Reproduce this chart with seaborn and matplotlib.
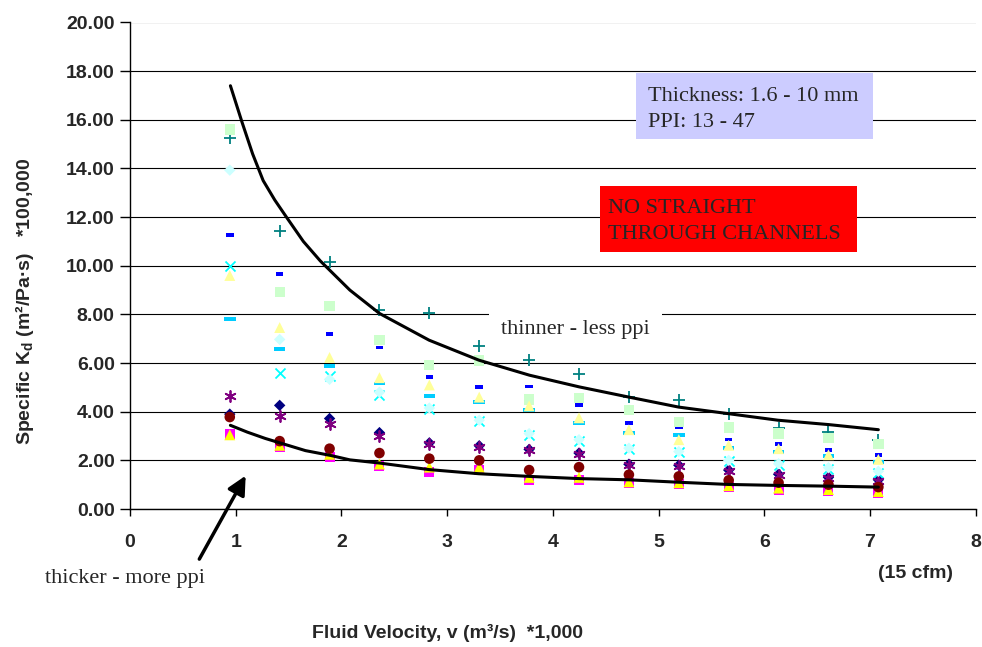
import matplotlib
matplotlib.use("Agg")
import matplotlib.pyplot as plt
from matplotlib.patches import Rectangle
from matplotlib.ticker import FormatStrFormatter
import pandas as pd
import seaborn as sns

''' DATA '''
# fluid velocity (m3/s *1000), 2 ... 15 cfm
velocity = [0.944, 1.416, 1.888, 2.36, 2.832, 3.304, 3.776, 4.248, 4.72, 5.192, 5.664, 6.136, 6.608, 7.08]

# specific Kd (m2/Pa.s *100,000), one list per sample
kd_s1 = [3.9, 4.26, 3.72, 3.14, 2.72, 2.6, 2.45, 2.3, 1.84, 1.8, 1.6, 1.43, 1.3, 1.2]
kd_s2 = [3.1, 2.55, 2.15, 1.75, 1.52, 1.62, 1.2, 1.18, 1.05, 1.03, 0.9, 0.8, 0.73, 0.65]
kd_s3 = [3.05, 2.62, 2.25, 1.85, 1.72, 1.72, 1.3, 1.3, 1.12, 1.08, 0.96, 0.86, 0.8, 0.72]
kd_s4 = [10.0, 5.61, 5.45, 4.68, 4.12, 3.6, 3.05, 2.8, 2.48, 2.33, 1.97, 1.82, 1.66, 1.5]
kd_s5 = [4.63, 3.81, 3.48, 2.99, 2.66, 2.55, 2.42, 2.28, 1.8, 1.77, 1.57, 1.4, 1.27, 1.15]
kd_s6 = [3.78, 2.79, 2.48, 2.3, 2.07, 2.0, 1.6, 1.72, 1.41, 1.34, 1.18, 1.08, 1.0, 0.9]
kd_s7 = [15.25, 11.42, 10.16, 8.2, 8.04, 6.7, 6.12, 5.53, 4.6, 4.5, 3.89, 3.35, 3.16, 2.82]
kd_s8 = [11.26, 9.67, 7.21, 6.64, 5.43, 5.02, 5.04, 4.29, 3.54, 3.37, 2.86, 2.66, 2.41, 2.23]
kd_s9 = [7.8, 6.58, 5.88, 5.16, 4.63, 4.4, 4.06, 3.54, 3.12, 3.03, 2.52, 2.34, 2.18, 1.93]
kd_s10 = [13.93, 6.97, 5.33, 4.8, 4.15, 3.65, 3.1, 2.85, 2.5, 2.36, 2.0, 1.86, 1.7, 1.55]
kd_s11 = [15.6, 8.93, 8.34, 6.94, 5.91, 6.1, 4.5, 4.56, 4.08, 3.58, 3.35, 3.1, 2.92, 2.66]
kd_s12 = [9.6, 7.46, 6.23, 5.4, 5.1, 4.6, 4.24, 3.75, 3.26, 2.85, 2.62, 2.48, 2.23, 2.04]

# envelope curves
upper_x = [0.95, 1.06, 1.16, 1.26, 1.37, 1.48, 1.64, 1.8, 2.08, 2.36, 2.83, 3.3, 3.78, 4.25, 4.72, 5.19, 5.66, 6.13, 6.61, 7.08]
upper_y = [17.4, 15.9, 14.6, 13.5, 12.7, 12.0, 11.0, 10.2, 9.0, 8.04, 6.94, 6.12, 5.5, 5.02, 4.6, 4.19, 3.92, 3.65, 3.47, 3.26]
lower_x = [0.95, 1.11, 1.28, 1.44, 1.66, 1.9, 2.08, 2.36, 2.83, 3.3, 3.78, 4.25, 4.72, 5.19, 5.66, 6.13, 6.61, 7.08]
lower_y = [3.44, 3.16, 2.9, 2.69, 2.4, 2.2, 2.02, 1.89, 1.62, 1.45, 1.34, 1.25, 1.2, 1.1, 1.01, 0.97, 0.94, 0.9]

series = [kd_s1, kd_s2, kd_s3, kd_s4, kd_s5, kd_s6, kd_s7, kd_s8, kd_s9, kd_s10, kd_s11, kd_s12]
names = ["s%d" % (i + 1) for i in range(len(series))]

rows = []
for name, vals in zip(names, series):
    for v, k in zip(velocity, vals):
        rows.append((name, v, k))
df = pd.DataFrame(rows, columns=["sample", "v", "kd"])

''' STYLES (excel-like) '''
short_bar = [(-1, -0.5), (1, -0.5), (1, 0.5), (-1, 0.5), (-1, -0.5)]
long_bar = [(-1.5, -0.5), (1.5, -0.5), (1.5, 0.5), (-1.5, 0.5), (-1.5, -0.5)]
styles = {
    "s1": dict(marker="D", color="#000080", s=34, filled=True),
    "s2": dict(marker="s", color="#FF00FF", s=52, filled=True),
    "s3": dict(marker="^", color="#FFFF00", s=62, filled=True),
    "s4": dict(marker="x", color="#00FFFF", s=52, filled=False),
    "s5": dict(marker=(6, 2, 0), color="#800080", s=62, filled=False),
    "s6": dict(marker="o", color="#800000", s=58, filled=True),
    "s7": dict(marker="+", color="#008080", s=68, filled=False),
    "s8": dict(marker=short_bar, color="#0000FF", s=30, filled=True),
    "s9": dict(marker=long_bar, color="#00CCFF", s=70, filled=True),
    "s10": dict(marker="D", color="#CCFFFF", s=34, filled=True),
    "s11": dict(marker="s", color="#CCFFCC", s=55, filled=True),
    "s12": dict(marker="^", color="#FFFF99", s=62, filled=True),
}

sns.set_style("white")
plt.rcParams["font.family"] = ["Liberation Sans", "DejaVu Sans"]
plt.rcParams["mathtext.fontset"] = "custom"
plt.rcParams["mathtext.rm"] = "Liberation Sans:bold"
plt.rcParams["mathtext.it"] = "Liberation Sans:bold"
plt.rcParams["mathtext.bf"] = "Liberation Sans:bold"
plt.rcParams["mathtext.default"] = "rm"

W, H = 982, 647
fig = plt.figure(figsize=(W / 100, H / 100), dpi=100)


def px(x, y):
    return x / W, 1 - y / H


ax = fig.add_axes([130 / W, 1 - 509 / H, (975.6 - 130) / W, (509 - 22.5) / H])

for name in names:
    st = styles[name]
    sub = df[df["sample"] == name]
    if st["filled"]:
        sns.scatterplot(data=sub, x="v", y="kd", marker=st["marker"], s=st["s"],
                        color=st["color"], edgecolor="none", linewidth=0, ax=ax, zorder=3)
    else:
        sns.scatterplot(data=sub, x="v", y="kd", marker=st["marker"], s=st["s"],
                        color=st["color"], linewidth=1.3, ax=ax, zorder=3)

sns.lineplot(x=upper_x, y=upper_y, color="black", lw=2.2, estimator=None, sort=False, ax=ax, zorder=4)
sns.lineplot(x=lower_x, y=lower_y, color="black", lw=2.2, estimator=None, sort=False, ax=ax, zorder=4)

ax.set_xlim(0, 8)
ax.set_ylim(0, 20)
ax.set_xticks(range(0, 9))
ax.set_yticks(range(0, 21, 2))
ax.yaxis.set_major_formatter(FormatStrFormatter("%.2f"))
ax.grid(axis="y", color="black", lw=0.8)
ax.grid(axis="x", visible=False)
ax.set_axisbelow(True)
ax.set_xlabel("")
ax.set_ylabel("")
for sp in ["top", "right"]:
    ax.spines[sp].set_visible(False)
for sp in ["left", "bottom"]:
    ax.spines[sp].set_color("black")
    ax.spines[sp].set_linewidth(1.0)
ax.tick_params(axis="y", direction="out", length=7, width=1, pad=4, labelsize=14, left=True, color="black")
ax.tick_params(axis="x", direction="out", length=5, width=1, pad=13, labelsize=14, bottom=True, color="black")
for lab in ax.get_xticklabels() + ax.get_yticklabels():
    lab.set_fontweight("bold")

''' ANNOTATIONS '''
fig.text(*px(25, 301), "Specific K$_{d}$ (m²/Pa·s)   *100,000", rotation=90,
         ha="center", va="center", fontsize=14, fontweight="bold")
fig.text(*px(447, 633), "Fluid Velocity, v (m³/s)  *1,000", ha="center", va="center",
         fontsize=14, fontweight="bold")
fig.text(*px(915, 573), "(15 cfm)", ha="center", va="center", fontsize=14, fontweight="bold")

serif = ["Liberation Serif", "DejaVu Serif"]
fig.text(*px(45, 578), "thicker - more ppi", ha="left", va="center", fontsize=16, family=serif)
fig.text(*px(501, 330), "thinner - less ppi", ha="left", va="center", fontsize=16, family=serif,
         zorder=5, bbox=dict(boxstyle="square,pad=0.55", facecolor="white", edgecolor="none"))

x0, y0 = px(636, 139)
fig.patches.append(Rectangle((x0, y0), (873 - 636) / W, (139 - 73) / H, transform=fig.transFigure,
                             facecolor="#CCCCFF", edgecolor="none", zorder=2))
fig.text(*px(648, 101), "Thickness: 1.6 - 10 mm", ha="left", va="baseline", fontsize=16, family=serif)
fig.text(*px(648, 127), "PPI: 13 - 47", ha="left", va="baseline", fontsize=16, family=serif)

x0, y0 = px(600, 252)
fig.patches.append(Rectangle((x0, y0), (857 - 600) / W, (252 - 186) / H, transform=fig.transFigure,
                             facecolor="#FF0000", edgecolor="none", zorder=2))
fig.text(*px(608, 213), "NO STRAIGHT", ha="left", va="baseline", fontsize=16, family=serif)
fig.text(*px(608, 239), "THROUGH CHANNELS", ha="left", va="baseline", fontsize=16, family=serif)

ax.annotate("", xy=(1.107, 1.47), xytext=(0.643, -2.16), xycoords="data",
            arrowprops=dict(arrowstyle="-|>", color="black", lw=2.5, mutation_scale=28),
            annotation_clip=False)

fig.savefig("out.png", dpi=100)
